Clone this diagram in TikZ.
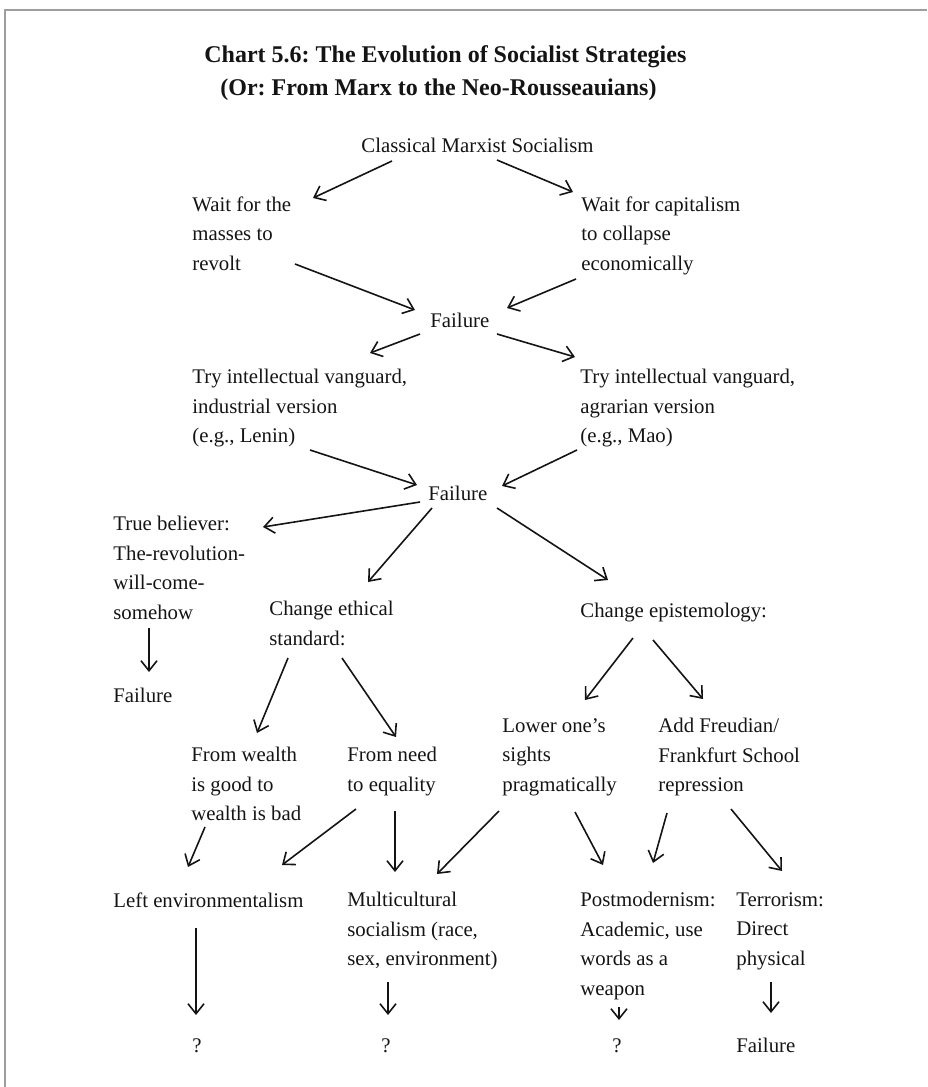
\documentclass[tikz,border=0pt]{standalone}
\usepackage{fontspec}
\setmainfont{Liberation Serif}
\usepackage{xcolor}
\usepackage{tikz}
\usetikzlibrary{arrows.meta}
\definecolor{framegray}{RGB}{158,158,158}
\definecolor{inkblack}{RGB}{20,20,20}
\frenchspacing

\begin{document}
\begin{tikzpicture}[x=0.5pt, y=-0.5pt, >={Straight Barb[length=5pt,width=8pt]},
  every node/.style={font=\fontsize{10.4}{14.75}\selectfont, text=inkblack},
  txt/.style={align=left, inner sep=0pt, anchor=north west},
  arr/.style={->, line width=0.8pt, inkblack}]

\useasboundingbox (0,0) rectangle (927,1087);

% Frame
\draw[framegray, line width=1.3pt] (5,1087) -- (5,10) -- (927,10);

% Title
\node[txt, font=\fontsize{12}{16.5}\selectfont\bfseries] at (204,45) (title)
  {Chart 5.6: The Evolution of Socialist Strategies\\\hspace*{8pt}(Or: From Marx to the Neo-Rousseauians)};

% Top rows
\node[txt] at (361,138) (cms) {Classical Marxist Socialism};
\node[txt] at (192,196) (masses) {Wait for the\\masses to\\revolt};
\node[txt] at (581,196) (collapse) {Wait for capitalism\\to collapse\\economically};
\node[txt] at (430,313) (fail1) {Failure};
\node[txt] at (192,369) (lenin) {Try intellectual vanguard,\\industrial version\\(e.g., Lenin)};
\node[txt] at (580,369) (mao) {Try intellectual vanguard,\\agrarian version\\(e.g., Mao)};
\node[txt] at (428,486) (fail2) {Failure};

% Middle rows
\node[txt] at (113,516) (believer) {True believer:\\The-revolution-\\will-come-\\somehow};
\node[txt] at (113,688) (fail3) {Failure};
\node[txt] at (269,601) (ethic) {Change ethical\\standard:};
\node[txt] at (580,603) (episte) {Change epistemology:};
\node[txt] at (191,747) (wealth) {From wealth\\is good to\\wealth is bad};
\node[txt] at (347,747) (need) {From need\\to equality};
\node[txt] at (502,718) (lower) {Lower one’s\\sights\\pragmatically};
\node[txt] at (658,718) (freud) {Add Freudian/\\Frankfurt School\\repression};

% Bottom rows
\node[txt] at (113,892) (leftenv) {Left environmentalism};
\node[txt] at (347,892) (multi) {Multicultural\\socialism (race,\\sex, environment)};
\node[txt] at (580,892) (postmod) {Postmodernism:\\Academic, use\\words as a\\weapon};
\node[txt] at (736,892) (terror) {Terrorism:\\Direct\\physical};
\node[txt] at (192,1038) (q1) {?};
\node[txt] at (381,1038) (q2) {?};
\node[txt] at (612,1038) (q3) {?};
\node[txt] at (736,1038) (fail4) {Failure};

% Arrows: first two failures
\draw[arr] ([shift={(31,23)}]cms.north west) -- ([shift={(121,2)}]masses.north west);
\draw[arr] ([shift={(136,22)}]cms.north west) -- ([shift={(-8,-4)}]collapse.north west);
\draw[arr] ([shift={(103,68)}]masses.north west) -- ([shift={(-15,-3)}]fail1.north west);
\draw[arr] ([shift={(-5,83)}]collapse.north west) -- ([shift={(77,-5)}]fail1.north west);
\draw[arr] ([shift={(-10,21)}]fail1.north west) -- ([shift={(178,-16)}]lenin.north west);
\draw[arr] ([shift={(67,21)}]fail1.north west) -- ([shift={(-5,-12)}]mao.north west);
\draw[arr] ([shift={(118,81)}]lenin.north west) -- ([shift={(-11,-1)}]fail2.north west);
\draw[arr] ([shift={(-3,81)}]mao.north west) -- ([shift={(74,0)}]fail2.north west);

% Arrows: three ways out
\draw[arr] ([shift={(-8,16)}]fail2.north west) -- ([shift={(150,11)}]believer.north west);
\draw[arr] ([shift={(4,22)}]fail2.north west) -- ([shift={(99,-19)}]ethic.north west);
\draw[arr] ([shift={(69,22)}]fail2.north west) -- ([shift={(28,-23)}]episte.north west);
\draw[arr] ([shift={(36,112)}]believer.north west) -- ([shift={(36,-16)}]fail3.north west);
\draw[arr] ([shift={(19,57)}]ethic.north west) -- ([shift={(66,-14)}]wealth.north west);
\draw[arr] ([shift={(73,57)}]ethic.north west) -- ([shift={(49,-10)}]need.north west);
\draw[arr] ([shift={(53,35)}]episte.north west) -- ([shift={(83,-18)}]lower.north west);
\draw[arr] ([shift={(73,37)}]episte.north west) -- ([shift={(45,-19)}]freud.north west);

% Arrows: bottom
\draw[arr] ([shift={(14,80)}]wealth.north west) -- ([shift={(75,-25)}]leftenv.north west);
\draw[arr] ([shift={(9,62)}]need.north west) -- ([shift={(169,-27)}]leftenv.north west);
\draw[arr] ([shift={(48,64)}]need.north west) -- ([shift={(48,-20)}]multi.north west);
\draw[arr] ([shift={(-3,93)}]lower.north west) -- ([shift={(90,-18)}]multi.north west);
\draw[arr] ([shift={(73,94)}]lower.north west) -- ([shift={(23,-27)}]postmod.north west);
\draw[arr] ([shift={(9,95)}]freud.north west) -- ([shift={(73,-29)}]postmod.north west);
\draw[arr] ([shift={(73,91)}]freud.north west) -- ([shift={(46,-21)}]terror.north west);
\draw[arr] ([shift={(83,36)}]leftenv.north west) -- ([shift={(4,-23)}]q1.north west);
\draw[arr] ([shift={(41,90)}]multi.north west) -- ([shift={(7,-23)}]q2.north west);
\draw[arr] ([shift={(39,115)}]postmod.north west) -- ([shift={(7,-18)}]q3.north west);
\draw[arr] ([shift={(35,90)}]terror.north west) -- ([shift={(35,-25)}]fail4.north west);

\end{tikzpicture}
\end{document}
